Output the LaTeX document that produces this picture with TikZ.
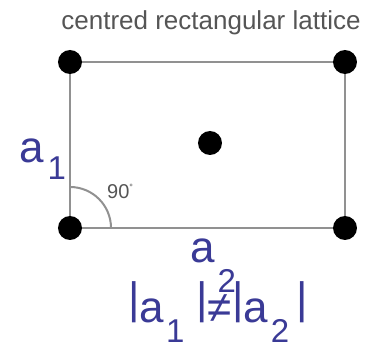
\documentclass[tikz,border=0pt]{standalone}
\usepackage{fontspec}
\usetikzlibrary{calc}
\setmainfont{Liberation Sans}
\definecolor{latblue}{RGB}{58,58,150}
\definecolor{latgray}{RGB}{145,145,145}
\definecolor{txtgray}{RGB}{85,85,85}
\newcommand{\bigf}{\fontsize{44}{44}\selectfont}
\newcommand{\subf}{\fontsize{33}{33}\selectfont}
\newcommand{\vb}{\raisebox{9pt}{|}}
\begin{document}
\begin{tikzpicture}[x=1pt,y=-1pt,
  latdot/.style={circle,fill=black,inner sep=0pt,minimum size=24pt},
  edge/.style={draw=latgray,line width=2.4pt},
  vec/.style={text=latblue,font=\bigf,anchor=base west,inner sep=0pt},
  small/.style={text=txtgray,anchor=base,inner sep=0pt}]
\useasboundingbox (0,0) rectangle (368,348);
\coordinate (tl) at (70,62);
\coordinate (tr) at (345,62);
\coordinate (bl) at (70,228);
\coordinate (br) at (345,228);
\coordinate (c) at (210,143);
\draw[edge] (tl) -- (tr) -- (br) -- (bl) -- cycle;
\draw[draw=latgray,line width=2pt] ($(bl)+(0,-41)$) arc[start angle=-90,end angle=0,radius=41];
\node[latdot] (ntl) at (tl) {};
\node[latdot] (ntr) at (tr) {};
\node[latdot] (nbl) at (bl) {};
\node[latdot] (nbr) at (br) {};
\node[latdot] (nc) at (c) {};
\node[small,font=\fontsize{26}{26}\selectfont] (title) at (211,30) {centred rectangular lattice};
\node[small,font=\fontsize{20}{20}\selectfont,anchor=base west] (ang) at (107,198) {90\raisebox{8pt}{\fontsize{9}{9}\selectfont °}};
\node[vec] (a1) at (19,163) {a\kern4pt\raisebox{-17pt}{\subf 1}};
\node[vec] (a2) at (190,262) {a\kern3pt\raisebox{-31pt}{\subf 2}};
\node[vec] (rel) at (128,323) {\vb a\kern2pt\raisebox{-20pt}{\subf 1}\kern12pt\vb≠\vb a\kern3pt\raisebox{-20pt}{\subf 2}\kern7pt\vb};
\end{tikzpicture}
\end{document}
